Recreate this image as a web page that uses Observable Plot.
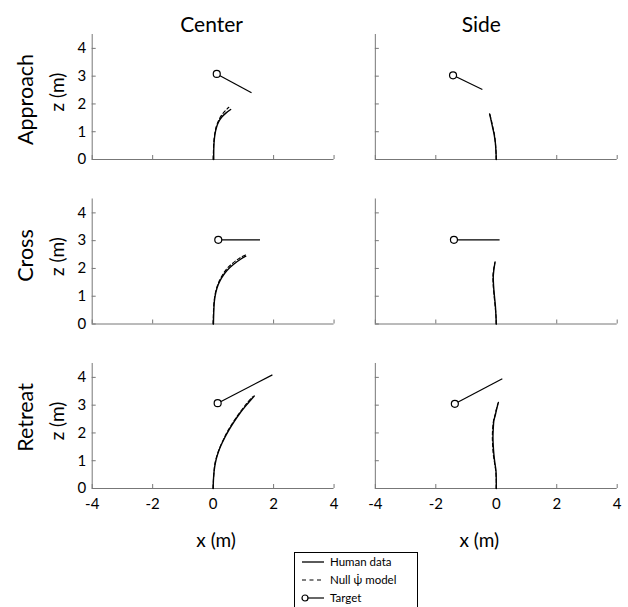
<!DOCTYPE html>
<html>
<head>
<meta charset="utf-8">
<script src="https://cdn.jsdelivr.net/npm/d3@7"></script>
<script src="https://cdn.jsdelivr.net/npm/@observablehq/plot@0.6"></script>
<style>
  html, body { margin: 0; padding: 0; background: #fff; overflow: hidden; }
  #root { position: relative; width: 628px; height: 607px; font-family: Lato, "Open Sans", sans-serif; color: #000; }
  #legend { position: absolute; left: 294px; top: 551.5px; width: 124px; height: 70px; border: 1px solid #000; background: #fff; box-sizing: border-box; }
  .lrow { position: absolute; left: 0; height: 18px; line-height: 18px; font-size: 11.5px; white-space: nowrap; }
  .lrow svg { position: absolute; left: 5px; top: 0; }
  .lrow span { position: absolute; left: 35px; top: 0; }
</style>
</head>
<body>
<div id="root"></div>
<script>
// ---------- data ----------
const conditions = ["Center", "Side"];
const paths = ["Approach", "Cross", "Retreat"];
const xTicks = [-4, -2, 0, 2, 4];
const zTicks = [0, 1, 2, 3, 4];
const legendLabels = ["Human data", "Null \u03C8\u0307 model", "Target"];

// Human data trajectories, [x, z] in metres
const humanCenterApproach = [[0.02,0],[0.02,0.3],[0.03,0.6],[0.06,0.9],[0.11,1.15],[0.18,1.35],[0.28,1.52],[0.42,1.67],[0.58,1.80]];
const humanCenterCross    = [[0.01,0],[0.02,0.4],[0.04,0.8],[0.09,1.14],[0.17,1.42],[0.28,1.66],[0.45,1.92],[0.68,2.15],[0.92,2.34],[1.08,2.44]];
const humanCenterRetreat  = [[0,0],[0.01,0.3],[0.03,0.6],[0.07,0.9],[0.14,1.2],[0.24,1.5],[0.37,1.8],[0.52,2.1],[0.69,2.4],[0.88,2.7],[1.1,3.0],[1.36,3.33]];
const humanSideApproach   = [[0,0],[-0.01,0.3],[-0.03,0.6],[-0.07,0.9],[-0.12,1.15],[-0.17,1.4],[-0.22,1.64]];
const humanSideCross      = [[0,0],[-0.01,0.3],[-0.03,0.66],[-0.06,1.0],[-0.09,1.38],[-0.1,1.7],[-0.08,1.95],[-0.04,2.23]];
const humanSideRetreat    = [[0,0],[0,0.3],[-0.01,0.64],[-0.05,0.95],[-0.08,1.24],[-0.1,1.55],[-0.11,1.84],[-0.1,2.15],[-0.08,2.44],[-0.03,2.65],[0,2.8],[0.07,3.1]];

// Null psi-dot model trajectories, [x, z]
const modelCenterApproach = [[0,0],[0.01,0.3],[0.02,0.6],[0.05,0.9],[0.1,1.17],[0.17,1.38],[0.26,1.56],[0.38,1.73],[0.52,1.88]];
const modelCenterCross    = [[0,0],[0.01,0.4],[0.03,0.8],[0.08,1.15],[0.16,1.44],[0.27,1.69],[0.43,1.96],[0.66,2.2],[0.9,2.39],[1.1,2.5]];
const modelCenterRetreat  = [[0,0],[0.01,0.3],[0.03,0.6],[0.06,0.9],[0.13,1.2],[0.23,1.5],[0.36,1.81],[0.51,2.12],[0.68,2.42],[0.87,2.72],[1.08,3.02],[1.3,3.3]];
const modelSideApproach   = [[0,0],[-0.01,0.3],[-0.03,0.6],[-0.06,0.9],[-0.11,1.15],[-0.16,1.4],[-0.21,1.62]];
const modelSideCross      = [[0,0],[-0.01,0.3],[-0.04,0.66],[-0.07,1.0],[-0.1,1.38],[-0.11,1.7],[-0.09,1.95],[-0.05,2.2]];
const modelSideRetreat    = [[0,0],[0,0.3],[-0.02,0.64],[-0.06,0.95],[-0.1,1.24],[-0.12,1.55],[-0.13,1.84],[-0.12,2.15],[-0.09,2.44],[-0.04,2.65],[-0.01,2.8],[0.05,3.05]];

// Target path: start [x, z] (circle) and end [x, z]
const targetCenterApproach = [[0.12,3.08],[1.27,2.40]];
const targetCenterCross    = [[0.17,3.03],[1.55,3.03]];
const targetCenterRetreat  = [[0.15,3.07],[1.96,4.09]];
const targetSideApproach   = [[-1.43,3.03],[-0.46,2.52]];
const targetSideCross      = [[-1.40,3.03],[0.11,3.03]];
const targetSideRetreat    = [[-1.37,3.05],[0.20,3.95]];

// ---------- tables for Plot ----------
const panels = [
  ["Center","Approach",humanCenterApproach,modelCenterApproach,targetCenterApproach],
  ["Center","Cross",humanCenterCross,modelCenterCross,targetCenterCross],
  ["Center","Retreat",humanCenterRetreat,modelCenterRetreat,targetCenterRetreat],
  ["Side","Approach",humanSideApproach,modelSideApproach,targetSideApproach],
  ["Side","Cross",humanSideCross,modelSideCross,targetSideCross],
  ["Side","Retreat",humanSideRetreat,modelSideRetreat,targetSideRetreat]
];
const human = [], model = [], targets = [];
for (const [cond, path, h, m, t] of panels) {
  h.forEach(([x, z]) => human.push({cond, path, x, z}));
  m.forEach(([x, z]) => model.push({cond, path, x, z}));
  targets.push({cond, path, x1: t[0][0], z1: t[0][1], x2: t[1][0], z2: t[1][1]});
}

// ---------- layout / style ----------
const FONT = 'Lato, "Open Sans", sans-serif';
const AXIS = "#777";
const rowLabelDy = [2.5, -6, -8.5];
const titleDx = {Center: -1.5, Side: -15};
const xLabelDx = {Center: 3, Side: -17};

const marks = [
  Plot.ruleX([-4], {stroke: AXIS}),
  Plot.ruleY([0], {stroke: AXIS}),
  Plot.axisX(xTicks, {facetAnchor: null, tickSize: 4, dy: -4, fill: "none", stroke: AXIS, label: null, tickFormat: () => ""}),
  Plot.axisY(zTicks, {facetAnchor: null, tickSize: 4, dx: 4, fill: "none", stroke: AXIS, label: null, tickFormat: () => ""}),
  Plot.axisX(xTicks, {tickSize: 0, tickPadding: 10, label: null, tickFormat: d => String(d), fill: "#000", fontSize: 15}),
  Plot.axisY(zTicks, {tickSize: 0, tickPadding: 6, label: null, tickFormat: d => String(d), fill: "#000", fontSize: 15}),
  Plot.line(model, {fx: "cond", fy: "path", x: "x", y: "z", curve: "catmull-rom", stroke: "#000", strokeWidth: 1.1, strokeDasharray: "3.5,2.5"}),
  Plot.line(human, {fx: "cond", fy: "path", x: "x", y: "z", curve: "catmull-rom", stroke: "#000", strokeWidth: 1.4}),
  Plot.link(targets, {fx: "cond", fy: "path", x1: "x1", y1: "z1", x2: "x2", y2: "z2", stroke: "#000", strokeWidth: 1.2}),
  Plot.dot(targets, {fx: "cond", fy: "path", x: "x1", y: "z1", r: 3.5, fill: "white", stroke: "#000", strokeWidth: 1.2})
];
for (const c of conditions) {
  marks.push(Plot.text([c], {fx: [c], facetAnchor: "top", frameAnchor: "top", lineAnchor: "top", textAnchor: "middle", dy: -17.3, dx: titleDx[c], fontSize: 21, fill: "#000"}));
  marks.push(Plot.text(["x (m)"], {fx: [c], facetAnchor: "bottom", frameAnchor: "bottom", lineAnchor: "top", textAnchor: "middle", dy: 45, dx: xLabelDx[c], fontSize: 19, fill: "#000"}));
}
paths.forEach((p, i) => {
  marks.push(Plot.text([p], {fy: [p], facetAnchor: "left", frameAnchor: "left", rotate: -90, lineAnchor: "top", textAnchor: "middle", dx: -74, dy: rowLabelDy[i], fontSize: 21.5, fill: "#000"}));
  marks.push(Plot.text(["z (m)"], {fy: [p], facetAnchor: "left", frameAnchor: "left", rotate: -90, lineAnchor: "top", textAnchor: "middle", dx: -42, dy: -5, fontSize: 19, fill: "#000"}));
});

const chart = Plot.plot({
  width: 628,
  height: 550,
  marginLeft: 91.7,
  marginRight: 11.3,
  marginTop: 34,
  marginBottom: 62,
  style: {fontFamily: FONT, fontSize: "15px", color: "#000", background: "white", overflow: "visible"},
  fx: {domain: conditions, paddingInner: 0.1458, paddingOuter: 0, round: false, axis: null},
  fy: {domain: paths, paddingInner: 0.2401, paddingOuter: 0, round: false, axis: null},
  x: {domain: [-4, 4]},
  y: {domain: [0, 4.5]},
  marks
});

const root = document.getElementById("root");
chart.style.position = "absolute";
chart.style.left = "0px";
chart.style.top = "0px";
root.appendChild(chart);

// ---------- legend ----------
const legend = document.createElement("div");
legend.id = "legend";
root.appendChild(legend);
const rowTop = [0.2, 18.5, 36.5];
legendLabels.forEach((lab, i) => {
  const row = document.createElement("div");
  row.className = "lrow";
  row.style.top = rowTop[i] + "px";
  const sw = d3.create("svg").attr("width", 26).attr("height", 18);
  if (i === 0) sw.append("line").attr("x1", 2).attr("x2", 24).attr("y1", 9).attr("y2", 9).attr("stroke", "#000").attr("stroke-width", 1.3);
  if (i === 1) sw.append("line").attr("x1", 2).attr("x2", 24).attr("y1", 9).attr("y2", 9).attr("stroke", "#000").attr("stroke-width", 1.1).attr("stroke-dasharray", "4,3.5");
  if (i === 2) {
    sw.append("line").attr("x1", 5).attr("x2", 24).attr("y1", 9).attr("y2", 9).attr("stroke", "#000").attr("stroke-width", 1.2);
    sw.append("circle").attr("cx", 5).attr("cy", 9).attr("r", 3).attr("fill", "#fff").attr("stroke", "#000").attr("stroke-width", 1.2);
  }
  row.appendChild(sw.node());
  const span = document.createElement("span");
  span.textContent = lab;
  row.appendChild(span);
  legend.appendChild(row);
});
</script>
</body>
</html>
